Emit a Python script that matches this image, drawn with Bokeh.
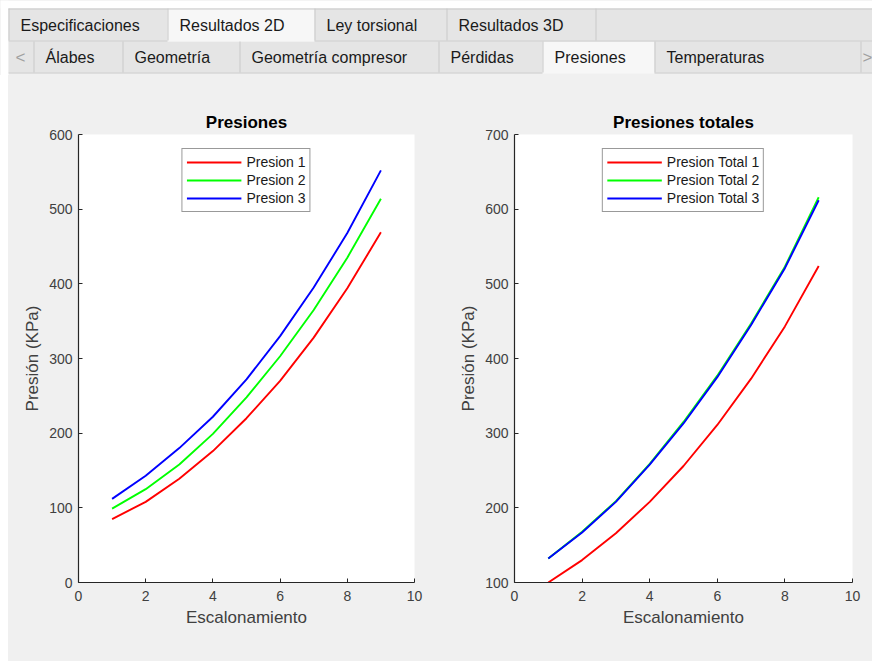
from bokeh.plotting import figure
from bokeh.models import Range1d, Spacer
from bokeh.layouts import column, row
from bokeh.embed import file_html
from bokeh.resources import INLINE
from bokeh.core.properties import value

# ---------------- data ----------------
etapas = [1, 2, 3, 4, 5, 6, 7, 8, 9]
presion_1 = [85, 108, 139, 176, 220, 270, 328, 394, 469]
presion_2 = [99, 125, 158, 199, 248, 303, 365, 435, 514]
presion_3 = [112, 143, 180, 222, 272, 330, 395, 468, 552]
presion_total_1 = [100, 130, 166, 208, 256, 311, 373, 443, 524]
presion_total_2 = [132, 168, 209, 259, 315, 377, 447, 523, 616]
presion_total_3 = [132, 167, 208, 258, 313, 375, 445, 521, 612]

labels_p = ["Presion 1", "Presion 2", "Presion 3"]
labels_pt = ["Presion Total 1", "Presion Total 2", "Presion Total 3"]
x_ticks = [0, 2, 4, 6, 8, 10]
y_ticks_p = [0, 100, 200, 300, 400, 500, 600]
y_ticks_pt = [100, 200, 300, 400, 500, 600, 700]

tabs_top = ["Especificaciones", "Resultados 2D", "Ley torsional", "Resultados 3D"]
tabs_sub = ["Álabes", "Geometría", "Geometría compresor", "Pérdidas", "Presiones", "Temperaturas"]

FONT = "Liberation Sans"
PANEL = "#f0f0f0"
TAB = "#e5e5e5"
TAB_SEL = "#f7f7f7"
EDGE = "#c9c9c9"
COLORS = ["#ff0000", "#00ff00", "#0000ff"]

# ---------------- header (tabs) ----------------
top_edges = [8, 167, 314, 446, 595]
sub_edges = [33, 122, 239, 438, 542, 654, 860]

h = figure(width=872, height=75, x_range=Range1d(0, 872), y_range=Range1d(75, 0),
           output_backend="svg", toolbar_location=None, min_border=0)
h.axis.visible = False
h.grid.visible = False
h.outline_line_color = None
h.background_fill_color = PANEL
h.border_fill_color = PANEL

# white surround
h.quad(left=[0, 0], right=[872, 8], top=[0, 0], bottom=[8, 75], fill_color="white", line_color=None)
# row backgrounds
h.quad(left=[8, 8], right=[872, 872], top=[8, 41], bottom=[40, 72], fill_color=TAB, line_color=None)
# selected tabs
h.quad(left=[top_edges[1], sub_edges[4]], right=[top_edges[2], sub_edges[5]],
       top=[8, 41], bottom=[41, 73], fill_color=TAB_SEL, line_color=None)
# border lines
h.segment(x0=[8, 8, top_edges[2], 8, sub_edges[5]], x1=[872, top_edges[1], 872, sub_edges[4], 872],
          y0=[8.5, 40.5, 40.5, 72.5, 72.5], y1=[8.5, 40.5, 40.5, 72.5, 72.5],
          line_color=EDGE, line_width=1)
h.segment(x0=[e + 0.5 for e in top_edges], x1=[e + 0.5 for e in top_edges],
          y0=[8] * len(top_edges), y1=[40] * len(top_edges), line_color=EDGE, line_width=1)
h.segment(x0=[e + 0.5 for e in sub_edges], x1=[e + 0.5 for e in sub_edges],
          y0=[41] * len(sub_edges), y1=[72] * len(sub_edges), line_color=EDGE, line_width=1)
# tab labels
h.text(x=[e + 12 for e in top_edges[:-1]], y=[25] * len(tabs_top), text=tabs_top,
       text_font=value(FONT), text_font_size="16px", text_color="#1a1a1a",
       text_baseline="middle", text_align="left")
h.text(x=[e + 12 for e in sub_edges[:-1]], y=[57] * len(tabs_sub), text=tabs_sub,
       text_font=value(FONT), text_font_size="16px", text_color="#1a1a1a",
       text_baseline="middle", text_align="left")
h.text(x=[20, 867], y=[57, 57], text=["<", ">"], text_font=value(FONT), text_font_size="17px",
       text_color="#a0a0a0", text_baseline="middle", text_align="center")


# ---------------- plots ----------------
def make_plot(title, series, labels, y_start, y_end, y_ticks, width, bl, br):
    p = figure(width=width, height=586, x_range=Range1d(0, 10), y_range=Range1d(y_start, y_end),
               output_backend="svg", toolbar_location=None, title=title,
               min_border_left=bl, min_border_right=br, min_border_top=59, min_border_bottom=79)
    p.background_fill_color = "white"
    p.border_fill_color = PANEL
    p.outline_line_color = None
    p.grid.visible = False
    p.title.align = "center"
    p.title.text_font = FONT
    p.title.text_font_size = "17px"
    p.title.text_font_style = "bold"
    p.title.text_color = "black"
    p.title.standoff = 6
    p.xaxis.ticker = x_ticks
    p.yaxis.ticker = y_ticks
    p.xaxis.axis_label = "Escalonamiento"
    p.yaxis.axis_label = "Presión (KPa)"
    for ax in (p.xaxis, p.yaxis):
        ax.axis_line_color = "#262626"
        ax.axis_line_width = 1.2
        ax.major_tick_line_color = "#262626"
        ax.major_tick_in = 4
        ax.major_tick_out = 0
        ax.minor_tick_line_color = None
        ax.major_label_text_font = FONT
        ax.major_label_text_font_size = "14px"
        ax.major_label_text_color = "#404040"
        ax.axis_label_text_font = FONT
        ax.axis_label_text_font_size = "17px"
        ax.axis_label_text_font_style = "normal"
        ax.axis_label_text_color = "#404040"
    p.xaxis.major_label_standoff = 8
    p.xaxis.axis_label_standoff = 4
    p.yaxis.major_label_standoff = 6
    p.yaxis.axis_label_standoff = 4
    for ys, lab, col in zip(series, labels, COLORS):
        p.line(etapas, ys, line_color=col, line_width=1.9, legend_label=lab)
    lg = p.legend[0]
    lg.location = "top_center"
    lg.margin = 14
    lg.border_line_color = "#333333"
    lg.border_line_width = 1.5
    lg.background_fill_color = "white"
    lg.background_fill_alpha = 1
    lg.label_text_font = FONT
    lg.label_text_font_size = "14px"
    lg.label_text_color = "#1a1a1a"
    lg.glyph_width = 55
    lg.glyph_height = 18
    lg.label_height = 18
    lg.label_standoff = 5
    lg.padding = 4
    lg.spacing = 0
    return p


left = make_plot("Presiones", [presion_1, presion_2, presion_3], labels_p,
                 0, 600, y_ticks_p, 428, 70, 22)
right = make_plot("Presiones totales", [presion_total_1, presion_total_2, presion_total_3], labels_pt,
                  100, 700, y_ticks_pt, 436, 78, 20)

plots_row = row(Spacer(width=8, height=586, styles={"background-color": "white"}), left, right,
                styles={"background-color": PANEL})
layout = column(h, plots_row, styles={"background-color": PANEL})
open("out.html", "w").write(file_html(layout, INLINE))
